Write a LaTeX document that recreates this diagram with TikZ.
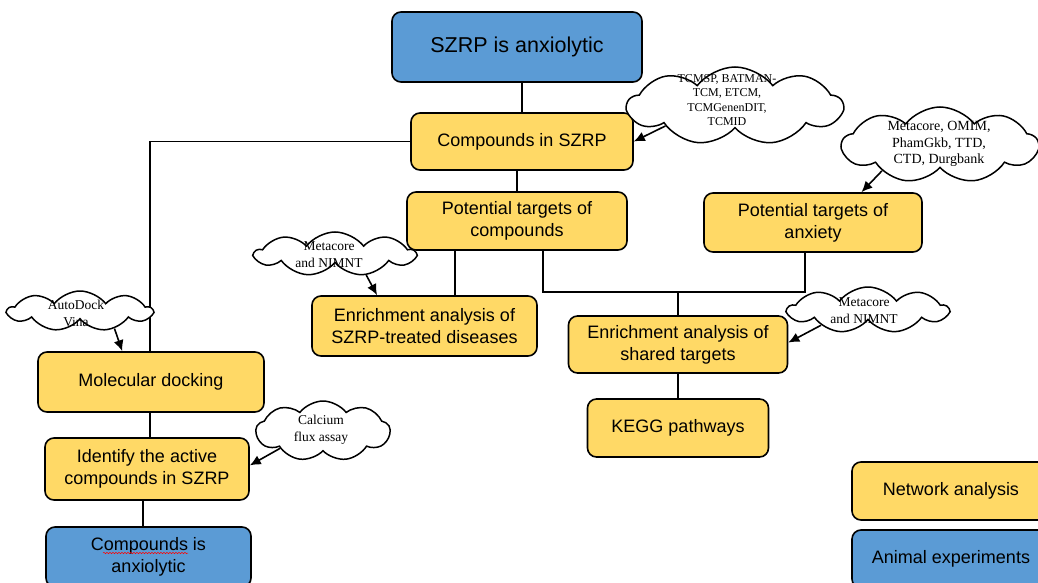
\documentclass[tikz,border=0pt]{standalone}
\usepackage{fontspec}
\setmainfont{Liberation Sans}
\newfontfamily\cloudfont{Liberation Serif}
\usetikzlibrary{shapes.symbols,arrows.meta,decorations.pathmorphing}
\definecolor{boxyellow}{HTML}{FFD966}
\definecolor{boxblue}{HTML}{5B9BD5}
\tikzset{
 base/.style={draw=black, line width=1.6pt, rounded corners=9pt, align=center, font=\fontsize{18}{22}\selectfont, inner sep=0pt},
 ybox/.style={base, fill=boxyellow},
 bbox/.style={base, fill=boxblue},
 link/.style={line width=1.6pt},
 arr/.style={line width=1.6pt, -{Latex[length=11pt,width=10pt]}},
 cloudshape/.style={cloud, cloud puffs=9, cloud puff arc=105, cloud ignores aspect, draw=black, line width=1.5pt, fill=white, inner sep=0pt},
 cloudtext/.style={align=center, font=\cloudfont\fontsize{13.5}{17}\selectfont, inner sep=0pt},
}
\begin{document}
\begin{tikzpicture}[x=1pt,y=-1pt]
\useasboundingbox (0,0) rectangle (1038,583);
% boxes
\node[bbox, minimum width=250pt, minimum height=70pt, font=\fontsize{21.5}{26}\selectfont] (top) at (517,47) {SZRP is anxiolytic};
\node[ybox, minimum width=222pt, minimum height=57pt] (comp) at (522,141.5) {Compounds in SZRP};
\node[ybox, minimum width=220pt, minimum height=58pt] (ptc) at (517,221) {Potential targets of\\compounds};
\node[ybox, minimum width=218pt, minimum height=59pt] (pta) at (813,222.5) {Potential targets of\\anxiety};
\node[ybox, minimum width=225pt, minimum height=60pt] (esd) at (424.5,326) {Enrichment analysis of\\SZRP-treated diseases};
\node[ybox, minimum width=219pt, minimum height=57pt] (est) at (678,344.5) {Enrichment analysis of\\shared targets};
\node[ybox, minimum width=181pt, minimum height=58pt] (kegg) at (678,428) {KEGG pathways};
\node[ybox, minimum width=226pt, minimum height=60pt] (md) at (151,382) {Molecular docking};
\node[ybox, minimum width=204pt, minimum height=62pt] (iac) at (147,469) {Identify the active\\compounds in SZRP};
\node[bbox, minimum width=205pt, minimum height=60pt] (cia) at (148.5,557) {Compounds is\\anxiolytic};
\node[ybox, minimum width=198pt, minimum height=58pt] (net) at (951,491) {Network analysis};
\node[bbox, minimum width=198pt, minimum height=58pt] (ani) at (951,559) {Animal experiments};
\draw[red, line width=0.5pt, decorate, decoration={snake, amplitude=0.7pt, segment length=3pt}] (103,553) -- (188,553);
% junction coordinates
\coordinate (j1) at (455,0);
\coordinate (j2) at (543,292);
\coordinate (j3) at (805,292);
\coordinate (j4) at (678,292);
\coordinate (j5) at (150,0);
\coordinate (j6) at (143,0);
% connectors
\draw[link] (top.south -| comp.north) -- (comp.north);
\draw[link] (comp.west) -| (md.north -| j5);
\draw[link] (comp.south -| ptc.north) -- (ptc.north);
\draw[link] (ptc.south -| j1) -- (esd.north -| j1);
\draw[link] (ptc.south -| j2) -- (j2) -- (j3) -- (pta.south -| j3);
\draw[link] (j4) -- (est.north);
\draw[link] (est.south) -- (kegg.north);
\draw[link] (md.south -| j5) -- (iac.north -| j5);
\draw[link] (iac.south -| j6) -- (cia.north -| j6);
% clouds
\node[cloudshape, minimum width=215pt, minimum height=78pt] (c1) at (735,106) {};
\node[cloudtext, font=\cloudfont\fontsize{12}{14.5}\selectfont] (t1) at (727,100) {TCMSP, BATMAN-\\TCM, ETCM,\\TCMGenenDIT,\\TCMID};
\node[cloudshape, minimum width=196pt, minimum height=76pt] (c2) at (940,145) {};
\node[cloudtext, font=\cloudfont\fontsize{14}{16.5}\selectfont] (t2) at (939,144) {Metacore, OMIM,\\PhamGkb, TTD,\\CTD, Durgbank};
\node[cloudshape, minimum width=160pt, minimum height=44pt] (c3) at (335,254) {};
\node[cloudtext] (t3) at (329,254.5) {Metacore\\and NIMNT};
\node[cloudshape, minimum width=144pt, minimum height=40pt] (c4) at (80,311) {};
\node[cloudtext] (t4) at (76,313.5) {AutoDock\\Vina};
\node[cloudshape, minimum width=134pt, minimum height=60pt] (c5) at (323,431) {};
\node[cloudtext] (t5) at (321,430) {Calcium\\flux assay};
\node[cloudshape, minimum width=160pt, minimum height=46pt] (c6) at (868,310) {};
\node[cloudtext] (t6) at (864,310.5) {Metacore\\and NIMNT};
% arrows
\draw[arr] (c1.196) -- (comp.east);
\draw[arr] (c2.204) -- (pta.32);
\draw[arr] (c3.326) -- (esd.147);
\draw[arr] (c4.333) -- (md.133);
\draw[arr] (c5.202) -- (iac.2);
\draw[arr] (c6.198) -- (est.1);
\end{tikzpicture}
\end{document}
